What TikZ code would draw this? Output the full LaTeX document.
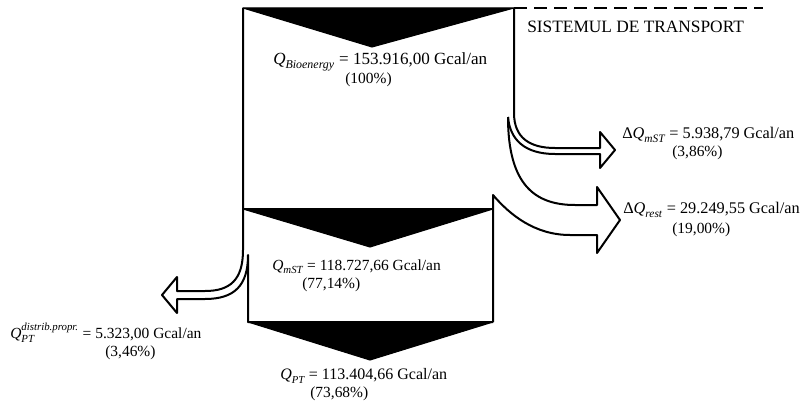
\documentclass[tikz,border=0pt]{standalone}
\usepackage{fontspec}
\usepackage{amsmath}
\setmainfont{Liberation Serif}
\newcommand{\qi}[1]{\text{\itshape #1}}
\tikzset{
  lbl/.style={anchor=west, inner sep=0pt, font=\fontsize{11.6}{13}\selectfont},
  wedge/.style={fill=black, draw=black, line width=0.8pt, line join=round},
  outl/.style={draw=black, line width=1.5pt, line join=round},
  border/.style={draw=black, line width=1.3pt, dash pattern=on 10pt off 5pt}
}
\begin{document}
\begin{tikzpicture}[x=0.75pt,y=-0.75pt]
\useasboundingbox (0,0) rectangle (805,403);
% dark wedges
\fill[wedge] (243,8) -- (514,8) -- (372,47) -- cycle;
\fill[wedge] (243,209) -- (493,209) -- (370,247) -- cycle;
\fill[wedge] (248,322) -- (493,322) -- (370,360) -- cycle;
% system border
\draw[border] (514,8) -- (763,8);
% upper box left edge and left loss arrow
\draw[outl] (243,8) -- (243,250) .. controls (243,280) and (230,291) .. (205,291)
  -- (177,291) -- (177,277) -- (162,295) -- (177,313) -- (177,299) -- (205,299)
  .. controls (235,299) and (248,285) .. (248,255) -- (248,322) -- (493,322);
% middle line
\draw[outl] (243,209) -- (493,209);
% right edge and upper thin arrow
\draw[outl] (514,8) -- (514,113) .. controls (514,138) and (530,148) .. (555,148)
  -- (600,148) -- (600,132) -- (615,150) -- (600,168) -- (600,154) -- (555,154)
  .. controls (525,154) and (510,140) .. (508,117);
% big loss arrow
\draw[outl] (508,117) .. controls (508,185) and (535,205) .. (575,205)
  -- (597,205) -- (597,187) -- (620,220) -- (597,253) -- (597,235) -- (570,235)
  .. controls (535,235) and (510,215) .. (493,195) -- (493,322);
% texts
\node[lbl, font=\fontsize{12.8}{15}\selectfont] (qbio) at (273,62) {$\qi{Q}_{\qi{Bioenergy}}$ = 153.916,00 Gcal/an};
\node[lbl] (qbiop) at (345,80) {(100\%)};
\node[lbl, font=\fontsize{13}{15}\selectfont] (sist) at (527,27) {SISTEMUL DE TRANSPORT};
\node[lbl, font=\fontsize{12.2}{14}\selectfont] (dqm) at (622,135) {Δ$\qi{Q}_{\qi{mST}}$ = 5.938,79 Gcal/an};
\node[lbl] (dqmp) at (672,153) {(3,86\%)};
\node[lbl, font=\fontsize{12.2}{14}\selectfont] (dqr) at (623,210) {Δ$\qi{Q}_{\qi{rest}}$ = 29.249,55 Gcal/an};
\node[lbl] (dqrp) at (672,230) {(19,00\%)};
\node[lbl] (qmst) at (272,267) {$\qi{Q}_{\qi{mST}}$ = 118.727,66 Gcal/an};
\node[lbl] (qmstp) at (302,285) {(77,14\%)};
\node[lbl] (qd) at (10,333) {$\qi{Q}^{\qi{distrib.propr.}}_{\qi{PT}}$ = 5.323,00 Gcal/an};
\node[lbl] (qdp) at (105,353) {(3,46\%)};
\node[lbl, font=\fontsize{12}{14}\selectfont] (qpt) at (280,376) {$\qi{Q}_{\qi{PT}}$ = 113.404,66 Gcal/an};
\node[lbl] (qptp) at (310,394) {(73,68\%)};
\end{tikzpicture}
\end{document}
